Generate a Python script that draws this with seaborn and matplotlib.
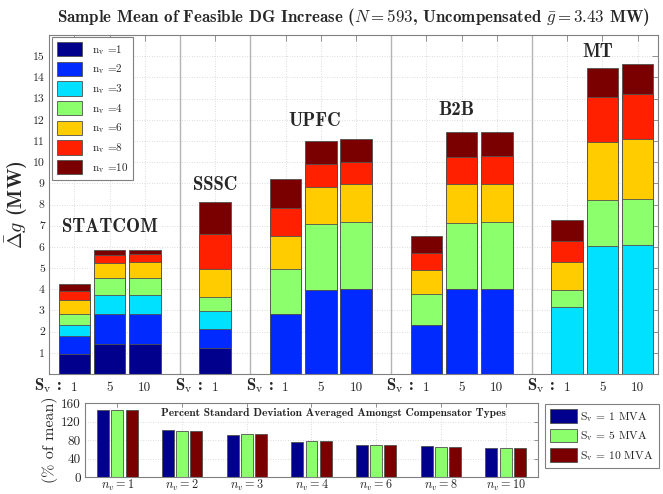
import numpy as np
import pandas as pd
import matplotlib
matplotlib.use("Agg")
import matplotlib.pyplot as plt
from matplotlib.patches import Patch
import matplotlib.transforms as mtransforms
import seaborn as sns

# ---------------- data ----------------
compensators = ["STATCOM", "SSSC", "UPFC", "B2B", "MT"]
sv_per_comp = [["1", "5", "10"], ["1"], ["1", "5", "10"], ["1", "5", "10"], ["1", "5", "10"]]
nv_labels = ["1", "2", "3", "4", "6", "8", "10"]

# cumulative stack tops (MW) for each bar, order: STATCOM 1/5/10, SSSC 1, UPFC 1/5/10, B2B 1/5/10, MT 1/5/10
top_nv1 = [0.96, 1.40, 1.40, 1.21, 0, 0, 0, 0, 0, 0, 0, 0, 0]
top_nv2 = [1.81, 2.82, 2.82, 2.13, 2.84, 3.95, 4.00, 2.32, 4.01, 4.01, 0, 0, 0]
top_nv3 = [2.33, 3.71, 3.72, 2.97, 2.84, 3.95, 4.00, 2.32, 4.01, 4.01, 3.15, 6.06, 6.11]
top_nv4 = [2.85, 4.54, 4.55, 3.62, 4.96, 7.10, 7.17, 3.79, 7.12, 7.19, 3.98, 8.20, 8.26]
top_nv6 = [3.47, 5.26, 5.27, 4.94, 6.50, 8.83, 8.95, 4.90, 8.96, 8.99, 5.27, 10.97, 11.08]
top_nv8 = [3.94, 5.64, 5.65, 6.63, 7.83, 9.89, 10.02, 5.71, 10.24, 10.27, 6.30, 13.06, 13.20]
top_nv10 = [4.26, 5.86, 5.87, 8.12, 9.21, 11.00, 11.08, 6.49, 11.40, 11.43, 7.26, 14.44, 14.61]
tops = [top_nv1, top_nv2, top_nv3, top_nv4, top_nv6, top_nv8, top_nv10]

# percent standard deviation (% of mean)
sv_legend = ["1", "5", "10"]
pct_s1 = [145, 101, 90.5, 76, 70, 66, 63.5]
pct_s5 = [144, 100, 93, 78, 70, 65.5, 62.5]
pct_s10 = [144, 100, 93, 78, 70, 65.5, 62.5]

nv_colors = ["#00008c", "#002aff", "#00e0ff", "#8cff6c", "#ffcc00", "#ff2000", "#7a0000"]
sv_colors = ["#00008c", "#8cff6c", "#7a0000"]

# ---------------- style ----------------
sns.set_theme(style="white")
plt.rcParams["font.family"] = ["cmr10", "DejaVu Serif"]
plt.rcParams["mathtext.fontset"] = "cm"
plt.rcParams["axes.formatter.use_mathtext"] = True
plt.rcParams["axes.unicode_minus"] = False

W, H = 663, 494
fig = plt.figure(figsize=(W / 100, H / 100), dpi=100)

def px_axes(l, t, r, b):
    return fig.add_axes([l / W, 1 - b / H, (r - l) / W, (b - t) / H])

ax = px_axes(49, 35, 658, 374)
ax2 = px_axes(85, 403, 538, 477)

# bar positions (slots) with one empty slot between groups
positions = []
first_pos = []
seps = []
p = 1
for gi, svs in enumerate(sv_per_comp):
    grp = []
    for s in svs:
        positions.append(p)
        grp.append(p)
        p += 1
    first_pos.append(grp[0])
    if gi < len(sv_per_comp) - 1:
        seps.append(p)
    p += 1
positions = np.array(positions, dtype=float)
bar_sv = [s for svs in sv_per_comp for s in svs]

# grid + separators
for x in positions:
    ax.axvline(x, color="#d0d0d0", lw=0.6, ls=(0, (1, 2)), zorder=0)
for y in range(1, 16):
    ax.axhline(y, color="#d0d0d0", lw=0.6, ls=(0, (1, 2)), zorder=0)
for s in seps:
    ax.axvline(s, color="#b4b4b4", lw=1.0, zorder=0.5)

# layered stacked bars: tallest cumulative first
for k in range(len(tops) - 1, -1, -1):
    df = pd.DataFrame({"pos": positions, "top": tops[k]})
    df = df[df["top"] > 0]
    sns.barplot(data=df, x="pos", y="top", native_scale=True, width=0.9,
                color=nv_colors[k], saturation=1, edgecolor="#505050",
                linewidth=0.6, ax=ax, zorder=2 + (len(tops) - k) * 0.01)

ax.set_xlim(0.28, 17.58)
ax.set_ylim(0, 16)
ax.set_xticks(positions)
ax.set_xticklabels(bar_sv, fontsize=9.5)
ax.set_yticks(range(1, 16))
ax.set_yticklabels([str(i) for i in range(1, 16)], fontsize=8.5)
ax.tick_params(axis="both", direction="in", length=4, width=0.6, color="#808080",
               top=True, right=True, labeltop=False, labelright=False, pad=3)
ax.tick_params(axis="x", pad=6)
for sp in ax.spines.values():
    sp.set_color("#808080")
    sp.set_linewidth(0.8)
ax.set_xlabel("")
ax.set_ylabel(r"$\bar{\Delta}g$ (MW)", fontsize=14.5, fontfamily="cmb10", labelpad=2)

# S_v labels
trans = mtransforms.blended_transform_factory(ax.transData, ax.transAxes)
for fp in first_pos:
    ax.text(fp - 0.33, -0.035, r"S$_{\rm v}$ :", transform=trans, ha="right", va="center",
            fontsize=12, fontfamily="cmb10")

# compensator names
name_pos = [(2.0, 6.94), (5.0, 8.94), (7.84, 11.94), (11.84, 12.44), (15.86, 15.22)]
for name, (nx, ny) in zip(compensators, name_pos):
    ax.text(nx, ny, name, ha="center", va="center", fontsize=13.5, fontfamily="cmb10", zorder=5)

# top legend
handles = [Patch(facecolor=c, edgecolor="#505050", linewidth=0.6) for c in nv_colors]
labels = [r"n$_{\rm v}$ =" + n for n in nv_labels]
leg = ax.legend(handles, labels, loc="upper left", bbox_to_anchor=(52 / W, 1 - 37 / H),
                bbox_transform=fig.transFigure, borderaxespad=0, fontsize=8,
                handlelength=2.25, handleheight=1.6, labelspacing=0.45, handletextpad=0.9,
                borderpad=0.45, fancybox=False, framealpha=1, edgecolor="#808080")
leg.get_frame().set_linewidth(0.8)
leg.set_zorder(10)

# title
fig.text(353 / W, 1 - 17 / H,
         r"Sample Mean of Feasible DG Increase ($N = 593$, Uncompensated $\bar{g} = 3.43$ MW)",
         ha="center", va="center", fontsize=12.2, fontfamily="cmb10")

# ---------------- bottom panel ----------------
df2 = pd.DataFrame({
    "nv": nv_labels * 3,
    "pct": pct_s1 + pct_s5 + pct_s10,
    "S": [sv_legend[0]] * 7 + [sv_legend[1]] * 7 + [sv_legend[2]] * 7,
})
for i in range(7):
    ax2.axvline(i, color="#d0d0d0", lw=0.6, ls=(0, (1, 2)), zorder=0)
for y in [40, 80, 120]:
    ax2.axhline(y, color="#d0d0d0", lw=0.6, ls=(0, (1, 2)), zorder=0)
sns.barplot(data=df2, x="nv", y="pct", hue="S", palette=sv_colors, saturation=1,
            width=0.66, gap=0.16, edgecolor="#505050", linewidth=0.6, legend=False,
            ax=ax2, zorder=2)
ax2.set_xlim(-0.5, 6.5)
ax2.set_ylim(0, 160)
ax2.set_yticks([0, 40, 80, 120, 160])
ax2.set_yticklabels(["0", "40", "80", "120", "160"], fontsize=9.5)
ax2.set_xticks(range(7))
ax2.set_xticklabels([r"$n_v = " + n + "$" for n in nv_labels], fontsize=8.8)
ax2.tick_params(axis="both", direction="in", length=3, width=0.6, color="#808080",
                top=True, right=True, pad=3)
ax2.tick_params(axis="x", pad=0.5)
for sp in ax2.spines.values():
    sp.set_color("#808080")
    sp.set_linewidth(0.8)
ax2.set_xlabel("")
ax2.set_ylabel("(% of mean)", fontsize=11.5, labelpad=2)
ax2.text(0.549, 0.87, "Percent Standard Deviation Averaged Amongst Compensator Types",
         transform=ax2.transAxes, ha="center", va="center", fontsize=8.2, fontfamily="cmb10",
         zorder=5)

handles2 = [Patch(facecolor=c, edgecolor="#505050", linewidth=0.6) for c in sv_colors]
labels2 = [r"S$_{\rm v}$ = " + s + " MVA" for s in sv_legend]
leg2 = fig.legend(handles2, labels2, loc="upper left", bbox_to_anchor=(545 / W, 1 - 404 / H),
                  borderaxespad=0, fontsize=8.3, handlelength=2.3, handleheight=1.45,
                  labelspacing=0.42, handletextpad=0.3, borderpad=0.45, fancybox=False,
                  framealpha=1, edgecolor="#808080")
leg2.get_frame().set_linewidth(0.8)

fig.savefig("out.png", dpi=100)
